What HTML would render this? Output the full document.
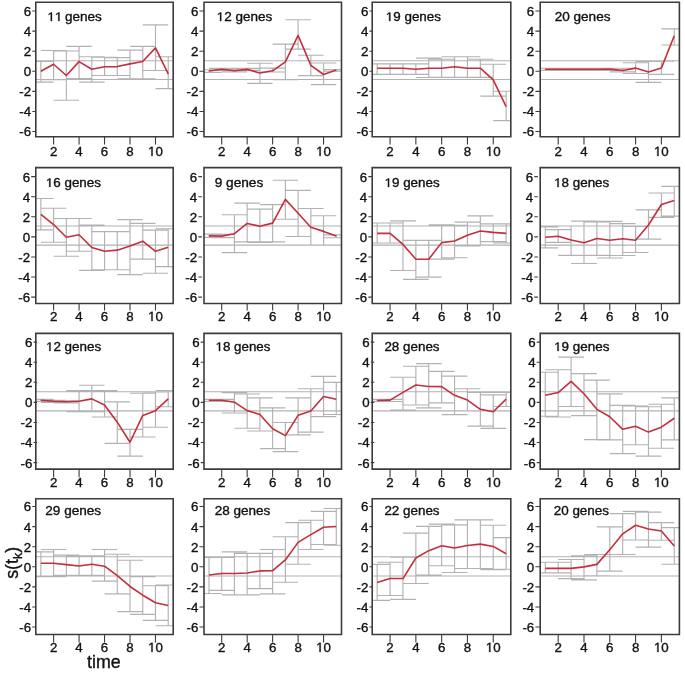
<!DOCTYPE html>
<html><head><meta charset="utf-8"><style>
html,body{margin:0;padding:0;background:#fff;width:685px;height:673px;overflow:hidden}
svg{display:block;will-change:transform}
svg text{font-family:"Liberation Sans",sans-serif;fill:#111;stroke:#111;stroke-width:0.35px}
.t{font-size:13.3px}
.h{font-size:12.3px}
.z{fill-opacity:0;stroke-opacity:0}
.o{fill:#111;stroke:#111;stroke-width:0.35px;vector-effect:non-scaling-stroke}
</style></head><body>
<svg width="685" height="673" viewBox="0 0 685 673"><clipPath id="c0"><rect x="35.8" y="2.2" width="137.4" height="134.6"/></clipPath><g clip-path="url(#c0)"><path d="M35.8 60.7H173.2M35.8 79.5H173.2M40.87 82.14V61.36M28.13 82.14H53.6M28.13 61.36H53.6M53.6 79.63V50.52M40.87 79.63H66.34M40.87 50.52H66.34M66.34 100.22V51.02M53.6 100.22H79.07M53.6 51.02H79.07M79.07 78.63V46.3M66.33 78.63H91.8M66.33 46.3H91.8M91.81 82.14V56.74M79.07 82.14H104.54M79.07 56.74H104.54M104.54 75.52V57.24M91.8 75.52H117.27M91.8 57.24H117.27M117.28 75.52V57.65M104.54 75.52H130.01M104.54 57.65H130.01M130.01 78.73V50.12M117.27 78.73H142.75M117.27 50.12H142.75M142.75 78.73V46.3M130.01 78.73H155.48M130.01 46.3H155.48M155.48 70.5V24.81M142.75 70.5H168.21M142.75 24.81H168.21M168.22 88.57V56.74M155.48 88.57H180.95M155.48 56.74H180.95" stroke="#b2b2b2" stroke-width="1.15" fill="none"/><polyline points="40.87,71.3 53.6,64.27 66.34,75.52 79.07,61.66 91.81,69.19 104.54,66.78 117.28,66.58 130.01,63.87 142.75,61.46 155.48,47.91 168.22,73.81" stroke="#c42e3e" stroke-width="1.6" stroke-linejoin="round" fill="none"/></g><path d="M35.8 2.2H173.2V136.8H35.8Z" fill="none" stroke="#3c3c3c" stroke-width="1.6"/><path d="M32.3 11.06H35.9M32.3 31.14H35.9M32.3 51.22H35.9M32.3 71.3H35.9M32.3 91.38H35.9M32.3 111.46H35.9M32.3 131.54H35.9M53.6 136.8V144.4M79.07 136.8V144.4M104.54 136.8V144.4M130.01 136.8V144.4M155.48 136.8V144.4" fill="none" stroke="#3c3c3c" stroke-width="1.1"/><text x="31.15" y="15.96" text-anchor="end" class="t">6</text><text x="31.15" y="36.04" text-anchor="end" class="t">4</text><text x="31.15" y="56.12" text-anchor="end" class="t">2</text><text x="31.15" y="76.2" text-anchor="end" class="t">0</text><text x="31.15" y="96.28" text-anchor="end" class="t">-2</text><text x="31.15" y="116.36" text-anchor="end" class="t">-4</text><text x="31.15" y="136.44" text-anchor="end" class="t">-6</text><text x="53.6" y="155.6" text-anchor="middle" class="t">2</text><text x="79.07" y="155.6" text-anchor="middle" class="t">4</text><text x="104.54" y="155.6" text-anchor="middle" class="t">6</text><text x="130.01" y="155.6" text-anchor="middle" class="t">8</text><text x="155.48" y="155.6" text-anchor="middle" class="t"><tspan class="z">1</tspan>0</text><path transform="translate(148.08,156) scale(0.006494,-0.006494)" d="M515 0V1237L197 1010V1180L530 1409H696V0Z" class="o"/><text x="47.37" y="21.1" textLength="54.5" lengthAdjust="spacingAndGlyphs" class="h"><tspan class="z">1</tspan><tspan class="z">1</tspan> genes</text><path transform="translate(47.37,21) scale(0.006587,-0.006006)" d="M515 0V1237L197 1010V1180L530 1409H696V0Z" class="o"/><path transform="translate(54.88,21) scale(0.006587,-0.006006)" d="M515 0V1237L197 1010V1180L530 1409H696V0Z" class="o"/><clipPath id="c1"><rect x="204" y="2.2" width="137.5" height="134.6"/></clipPath><g clip-path="url(#c1)"><path d="M204 60.7H341.5M204 79.5H341.5M208.98 72.3V69.79M196.25 72.3H221.71M196.25 69.79H221.71M221.71 70.3V68.39M208.98 70.3H234.44M208.98 68.39H234.44M234.44 71.8V69.79M221.71 71.8H247.17M221.71 69.79H247.17M247.17 70.3V68.39M234.44 70.3H259.9M234.44 68.39H259.9M259.9 83.35V63.27M247.17 83.35H272.63M247.17 63.27H272.63M272.63 72V68.19M259.9 72H285.37M259.9 68.19H285.37M285.37 79.63V44.19M272.64 79.63H298.1M272.64 44.19H298.1M298.1 49.11V19.79M285.37 49.11H310.83M285.37 19.79H310.83M310.83 75.62V55.24M298.1 75.62H323.56M298.1 55.24H323.56M323.56 84.55V62.97M310.83 84.55H336.29M310.83 62.97H336.29M336.29 71.1V69.49M323.56 71.1H349.02M323.56 69.49H349.02" stroke="#b2b2b2" stroke-width="1.15" fill="none"/><polyline points="208.98,71 221.71,69.19 234.44,70.8 247.17,69.39 259.9,73.01 272.63,70.8 285.37,61.86 298.1,35.36 310.83,65.28 323.56,74.51 336.29,70.1" stroke="#c42e3e" stroke-width="1.6" stroke-linejoin="round" fill="none"/></g><path d="M204 2.2H341.5V136.8H204Z" fill="none" stroke="#3c3c3c" stroke-width="1.6"/><path d="M199.45 11.06H204M199.45 31.14H204M199.45 51.22H204M199.45 71.3H204M199.45 91.38H204M199.45 111.46H204M199.45 131.54H204M221.71 136.8V144.4M247.17 136.8V144.4M272.63 136.8V144.4M298.1 136.8V144.4M323.56 136.8V144.4" fill="none" stroke="#3c3c3c" stroke-width="1.1"/><text x="198.3" y="15.96" text-anchor="end" class="t">6</text><text x="198.3" y="36.04" text-anchor="end" class="t">4</text><text x="198.3" y="56.12" text-anchor="end" class="t">2</text><text x="198.3" y="76.2" text-anchor="end" class="t">0</text><text x="198.3" y="96.28" text-anchor="end" class="t">-2</text><text x="198.3" y="116.36" text-anchor="end" class="t">-4</text><text x="198.3" y="136.44" text-anchor="end" class="t">-6</text><text x="221.71" y="155.6" text-anchor="middle" class="t">2</text><text x="247.17" y="155.6" text-anchor="middle" class="t">4</text><text x="272.63" y="155.6" text-anchor="middle" class="t">6</text><text x="298.1" y="155.6" text-anchor="middle" class="t">8</text><text x="323.56" y="155.6" text-anchor="middle" class="t"><tspan class="z">1</tspan>0</text><path transform="translate(316.16,156) scale(0.006494,-0.006494)" d="M515 0V1237L197 1010V1180L530 1409H696V0Z" class="o"/><text x="216.67" y="21.1" textLength="55.61" lengthAdjust="spacingAndGlyphs" class="h"><tspan class="z">1</tspan>2 genes</text><path transform="translate(216.67,21) scale(0.006599,-0.006006)" d="M515 0V1237L197 1010V1180L530 1409H696V0Z" class="o"/><clipPath id="c2"><rect x="372.2" y="2.2" width="138.6" height="134.6"/></clipPath><g clip-path="url(#c2)"><path d="M372.2 60.7H510.8M372.2 79.5H510.8M377.16 74.41V63.87M364.27 74.41H390.06M364.27 63.87H390.06M390.06 74.41V63.87M377.16 74.41H402.96M377.16 63.87H402.96M402.96 74.41V63.87M390.06 74.41H415.85M390.06 63.87H415.85M415.86 74.41V63.87M402.96 74.41H428.75M402.96 63.87H428.75M428.75 77.52V58.05M415.86 77.52H441.65M415.86 58.05H441.65M441.65 77.32V59.25M428.75 77.32H454.55M428.75 59.25H454.55M454.55 77.32V56.74M441.65 77.32H467.44M441.65 56.74H467.44M467.44 77.32V56.74M454.55 77.32H480.34M454.55 56.74H480.34M480.34 77.32V59.25M467.44 77.32H493.24M467.44 59.25H493.24M493.24 96.1V64.27M480.34 96.1H506.14M480.34 64.27H506.14M506.14 120.6V91.28M493.24 120.6H519.04M493.24 91.28H519.04" stroke="#b2b2b2" stroke-width="1.15" fill="none"/><polyline points="377.16,68.29 390.06,68.29 402.96,68.29 415.86,69.29 428.75,68.29 441.65,68.19 454.55,66.68 467.44,68.19 480.34,68.19 493.24,79.93 506.14,106.64" stroke="#c42e3e" stroke-width="1.6" stroke-linejoin="round" fill="none"/></g><path d="M372.2 2.2H510.8V136.8H372.2Z" fill="none" stroke="#3c3c3c" stroke-width="1.6"/><path d="M369.45 11.06H373.05M369.45 31.14H373.05M369.45 51.22H373.05M369.45 71.3H373.05M369.45 91.38H373.05M369.45 111.46H373.05M369.45 131.54H373.05M390.06 136.8V144.4M415.86 136.8V144.4M441.65 136.8V144.4M467.44 136.8V144.4M493.24 136.8V144.4" fill="none" stroke="#3c3c3c" stroke-width="1.1"/><text x="368.3" y="15.96" text-anchor="end" class="t">6</text><text x="368.3" y="36.04" text-anchor="end" class="t">4</text><text x="368.3" y="56.12" text-anchor="end" class="t">2</text><text x="368.3" y="76.2" text-anchor="end" class="t">0</text><text x="368.3" y="96.28" text-anchor="end" class="t">-2</text><text x="368.3" y="116.36" text-anchor="end" class="t">-4</text><text x="368.3" y="136.44" text-anchor="end" class="t">-6</text><text x="390.06" y="155.6" text-anchor="middle" class="t">2</text><text x="415.86" y="155.6" text-anchor="middle" class="t">4</text><text x="441.65" y="155.6" text-anchor="middle" class="t">6</text><text x="467.44" y="155.6" text-anchor="middle" class="t">8</text><text x="493.24" y="155.6" text-anchor="middle" class="t"><tspan class="z">1</tspan>0</text><path transform="translate(485.84,156) scale(0.006494,-0.006494)" d="M515 0V1237L197 1010V1180L530 1409H696V0Z" class="o"/><text x="385.78" y="21.1" textLength="55.2" lengthAdjust="spacingAndGlyphs" class="h"><tspan class="z">1</tspan>9 genes</text><path transform="translate(385.78,21) scale(0.006550,-0.006006)" d="M515 0V1237L197 1010V1180L530 1409H696V0Z" class="o"/><clipPath id="c3"><rect x="540.2" y="2.2" width="139.2" height="134.6"/></clipPath><g clip-path="url(#c3)"><path d="M540.2 60.7H679.4M540.2 79.5H679.4M545.29 70.3V68.29M532.39 70.3H558.19M532.39 68.29H558.19M558.19 70.3V68.29M545.29 70.3H571.09M545.29 68.29H571.09M571.09 70.3V68.29M558.19 70.3H583.99M558.19 68.29H583.99M583.99 70.3V68.29M571.09 70.3H596.88M571.09 68.29H596.88M596.88 70.3V68.29M583.99 70.3H609.78M583.99 68.29H609.78M609.78 70.3V68.29M596.88 70.3H622.68M596.88 68.29H622.68M622.68 71.8V68.29M609.78 71.8H635.58M609.78 68.29H635.58M635.58 73.51V62.77M622.68 73.51H648.47M622.68 62.77H648.47M648.47 82.34V61.46M635.57 82.34H661.37M635.57 61.46H661.37M661.37 74.41V61.26M648.47 74.41H674.27M648.47 61.26H674.27M674.27 45V28.83M661.37 45H687.17M661.37 28.83H687.17" stroke="#b2b2b2" stroke-width="1.15" fill="none"/><polyline points="545.29,69.29 558.19,69.29 571.09,69.29 583.99,69.29 596.88,69.29 609.78,69.09 622.68,70.5 635.58,68.09 648.47,71.9 661.37,68.09 674.27,35.76" stroke="#c42e3e" stroke-width="1.6" stroke-linejoin="round" fill="none"/></g><path d="M540.2 2.2H679.4V136.8H540.2Z" fill="none" stroke="#3c3c3c" stroke-width="1.6"/><path d="M535.4 11.06H540.2M535.4 31.14H540.2M535.4 51.22H540.2M535.4 71.3H540.2M535.4 91.38H540.2M535.4 111.46H540.2M535.4 131.54H540.2M558.19 136.8V144.4M583.99 136.8V144.4M609.78 136.8V144.4M635.58 136.8V144.4M661.37 136.8V144.4" fill="none" stroke="#3c3c3c" stroke-width="1.1"/><text x="534.25" y="15.96" text-anchor="end" class="t">6</text><text x="534.25" y="36.04" text-anchor="end" class="t">4</text><text x="534.25" y="56.12" text-anchor="end" class="t">2</text><text x="534.25" y="76.2" text-anchor="end" class="t">0</text><text x="534.25" y="96.28" text-anchor="end" class="t">-2</text><text x="534.25" y="116.36" text-anchor="end" class="t">-4</text><text x="534.25" y="136.44" text-anchor="end" class="t">-6</text><text x="558.19" y="155.6" text-anchor="middle" class="t">2</text><text x="583.99" y="155.6" text-anchor="middle" class="t">4</text><text x="609.78" y="155.6" text-anchor="middle" class="t">6</text><text x="635.58" y="155.6" text-anchor="middle" class="t">8</text><text x="661.37" y="155.6" text-anchor="middle" class="t"><tspan class="z">1</tspan>0</text><path transform="translate(653.97,156) scale(0.006494,-0.006494)" d="M515 0V1237L197 1010V1180L530 1409H696V0Z" class="o"/><text x="554.72" y="21.1" textLength="55.76" lengthAdjust="spacingAndGlyphs" class="h">20 genes</text><clipPath id="c4"><rect x="35.8" y="167.6" width="137.4" height="135.9"/></clipPath><g clip-path="url(#c4)"><path d="M35.8 226H173.2M35.8 245.1H173.2M40.87 229.87V198.45M28.13 229.87H53.6M28.13 198.45H53.6M53.6 242.22V208.29M40.87 242.22H66.34M40.87 208.29H66.34M66.34 256.28V218.53M53.6 256.28H79.07M53.6 218.53H79.07M79.07 251.26V218.53M66.33 251.26H91.8M66.33 218.53H91.8M91.81 270.43V225.15M79.07 270.43H104.54M79.07 225.15H104.54M104.54 269.73V231.58M91.8 269.73H117.27M91.8 231.58H117.27M117.28 269.73V231.58M104.54 269.73H130.01M104.54 231.58H130.01M130.01 274.55V219.63M117.27 274.55H142.75M117.27 219.63H142.75M142.75 259.09V223.35M130.01 259.09H155.48M130.01 223.35H155.48M155.48 273.24V230.17M142.75 273.24H168.21M142.75 230.17H168.21M168.22 266.62V228.77M155.48 266.62H180.95M155.48 228.77H180.95" stroke="#b2b2b2" stroke-width="1.15" fill="none"/><polyline points="40.87,214.41 53.6,224.55 66.34,237.2 79.07,234.69 91.81,247.54 104.54,251.26 117.28,250.15 130.01,245.94 142.75,241.22 155.48,251.26 168.22,247.14" stroke="#c42e3e" stroke-width="1.6" stroke-linejoin="round" fill="none"/></g><path d="M35.8 167.6H173.2V303.5H35.8Z" fill="none" stroke="#3c3c3c" stroke-width="1.6"/><path d="M31.2 176.66H35.8M31.2 196.74H35.8M31.2 216.82H35.8M31.2 236.9H35.8M31.2 256.98H35.8M31.2 277.06H35.8M31.2 297.14H35.8M53.6 303.5V310.4M79.07 303.5V310.4M104.54 303.5V310.4M130.01 303.5V310.4M155.48 303.5V310.4" fill="none" stroke="#3c3c3c" stroke-width="1.1"/><text x="30.05" y="181.56" text-anchor="end" class="t">6</text><text x="30.05" y="201.64" text-anchor="end" class="t">4</text><text x="30.05" y="221.72" text-anchor="end" class="t">2</text><text x="30.05" y="241.8" text-anchor="end" class="t">0</text><text x="30.05" y="261.88" text-anchor="end" class="t">-2</text><text x="30.05" y="281.96" text-anchor="end" class="t">-4</text><text x="30.05" y="302.04" text-anchor="end" class="t">-6</text><text x="53.6" y="321.3" text-anchor="middle" class="t">2</text><text x="79.07" y="321.3" text-anchor="middle" class="t">4</text><text x="104.54" y="321.3" text-anchor="middle" class="t">6</text><text x="130.01" y="321.3" text-anchor="middle" class="t">8</text><text x="155.48" y="321.3" text-anchor="middle" class="t"><tspan class="z">1</tspan>0</text><path transform="translate(148.08,321) scale(0.006494,-0.006494)" d="M515 0V1237L197 1010V1180L530 1409H696V0Z" class="o"/><text x="45.88" y="187" textLength="54.99" lengthAdjust="spacingAndGlyphs" class="h"><tspan class="z">1</tspan>6 genes</text><path transform="translate(45.88,187) scale(0.006526,-0.006006)" d="M515 0V1237L197 1010V1180L530 1409H696V0Z" class="o"/><clipPath id="c5"><rect x="204" y="167.6" width="137.5" height="135.9"/></clipPath><g clip-path="url(#c5)"><path d="M204 226H341.5M204 245.1H341.5M208.98 237.4V234.09M196.25 237.4H221.71M196.25 234.09H221.71M221.71 237.6V234.39M208.98 237.6H234.44M208.98 234.39H234.44M234.44 252.66V214.71M221.71 252.66H247.17M221.71 214.71H247.17M247.17 241.82V203.17M234.44 241.82H259.9M234.44 203.17H259.9M259.9 242.42V209.09M247.17 242.42H272.63M247.17 209.09H272.63M272.63 241.82V204.67M259.9 241.82H285.37M259.9 204.67H285.37M285.37 219.23V180.27M272.64 219.23H298.1M272.64 180.27H298.1M298.1 236.5V190.31M285.37 236.5H310.83M285.37 190.31H310.83M310.83 245.13V208.49M298.1 245.13H323.56M298.1 208.49H323.56M323.56 245.13V215.72M310.83 245.13H336.29M310.83 215.72H336.29M336.29 237.7V234.89M323.56 237.7H349.02M323.56 234.89H349.02" stroke="#b2b2b2" stroke-width="1.15" fill="none"/><polyline points="208.98,235.9 221.71,236.1 234.44,233.69 247.17,223.45 259.9,226.16 272.63,223.15 285.37,199.35 298.1,213.31 310.83,227.26 323.56,231.38 336.29,236.1" stroke="#c42e3e" stroke-width="1.6" stroke-linejoin="round" fill="none"/></g><path d="M204 167.6H341.5V303.5H204Z" fill="none" stroke="#3c3c3c" stroke-width="1.6"/><path d="M198.35 176.66H201.95M198.35 196.74H201.95M198.35 216.82H201.95M198.35 236.9H201.95M198.35 256.98H201.95M198.35 277.06H201.95M198.35 297.14H201.95M221.71 303.5V310.4M247.17 303.5V310.4M272.63 303.5V310.4M298.1 303.5V310.4M323.56 303.5V310.4" fill="none" stroke="#3c3c3c" stroke-width="1.1"/><text x="197.2" y="181.56" text-anchor="end" class="t">6</text><text x="197.2" y="201.64" text-anchor="end" class="t">4</text><text x="197.2" y="221.72" text-anchor="end" class="t">2</text><text x="197.2" y="241.8" text-anchor="end" class="t">0</text><text x="197.2" y="261.88" text-anchor="end" class="t">-2</text><text x="197.2" y="281.96" text-anchor="end" class="t">-4</text><text x="197.2" y="302.04" text-anchor="end" class="t">-6</text><text x="221.71" y="321.3" text-anchor="middle" class="t">2</text><text x="247.17" y="321.3" text-anchor="middle" class="t">4</text><text x="272.63" y="321.3" text-anchor="middle" class="t">6</text><text x="298.1" y="321.3" text-anchor="middle" class="t">8</text><text x="323.56" y="321.3" text-anchor="middle" class="t"><tspan class="z">1</tspan>0</text><path transform="translate(316.16,321) scale(0.006494,-0.006494)" d="M515 0V1237L197 1010V1180L530 1409H696V0Z" class="o"/><text x="214.66" y="187" textLength="48.63" lengthAdjust="spacingAndGlyphs" class="h">9 genes</text><clipPath id="c6"><rect x="372.2" y="167.6" width="138.6" height="135.9"/></clipPath><g clip-path="url(#c6)"><path d="M372.2 226H510.8M372.2 245.1H510.8M377.16 243.02V223.04M364.27 243.02H390.06M364.27 223.04H390.06M390.06 243.02V223.04M377.16 243.02H402.96M377.16 223.04H402.96M402.96 270.53V220.84M390.06 270.53H415.85M390.06 220.84H415.85M415.86 279.37V240.41M402.96 279.37H428.75M402.96 240.41H428.75M428.75 277.06V240.41M415.86 277.06H441.65M415.86 240.41H441.65M441.65 259.19V224.85M428.75 259.19H454.55M428.75 224.85H454.55M454.55 257.78V225.35M441.65 257.78H467.44M441.65 225.35H467.44M467.44 245.84V222.14M454.55 245.84H480.34M454.55 222.14H480.34M480.34 245.13V215.92M467.44 245.13H493.24M467.44 215.92H493.24M493.24 241.62V223.85M480.34 241.62H506.14M480.34 223.85H506.14M506.14 243.02V223.85M493.24 243.02H519.04M493.24 223.85H519.04" stroke="#b2b2b2" stroke-width="1.15" fill="none"/><polyline points="377.16,233.39 390.06,233.39 402.96,244.43 415.86,259.19 428.75,259.19 441.65,242.62 454.55,240.92 467.44,235.19 480.34,230.98 493.24,232.38 506.14,233.39" stroke="#c42e3e" stroke-width="1.6" stroke-linejoin="round" fill="none"/></g><path d="M372.2 167.6H510.8V303.5H372.2Z" fill="none" stroke="#3c3c3c" stroke-width="1.6"/><path d="M368.35 176.66H372.2M368.35 196.74H372.2M368.35 216.82H372.2M368.35 236.9H372.2M368.35 256.98H372.2M368.35 277.06H372.2M368.35 297.14H372.2M390.06 303.5V310.4M415.86 303.5V310.4M441.65 303.5V310.4M467.44 303.5V310.4M493.24 303.5V310.4" fill="none" stroke="#3c3c3c" stroke-width="1.1"/><text x="367.2" y="181.56" text-anchor="end" class="t">6</text><text x="367.2" y="201.64" text-anchor="end" class="t">4</text><text x="367.2" y="221.72" text-anchor="end" class="t">2</text><text x="367.2" y="241.8" text-anchor="end" class="t">0</text><text x="367.2" y="261.88" text-anchor="end" class="t">-2</text><text x="367.2" y="281.96" text-anchor="end" class="t">-4</text><text x="367.2" y="302.04" text-anchor="end" class="t">-6</text><text x="390.06" y="321.3" text-anchor="middle" class="t">2</text><text x="415.86" y="321.3" text-anchor="middle" class="t">4</text><text x="441.65" y="321.3" text-anchor="middle" class="t">6</text><text x="467.44" y="321.3" text-anchor="middle" class="t">8</text><text x="493.24" y="321.3" text-anchor="middle" class="t"><tspan class="z">1</tspan>0</text><path transform="translate(485.84,321) scale(0.006494,-0.006494)" d="M515 0V1237L197 1010V1180L530 1409H696V0Z" class="o"/><text x="384.58" y="187" textLength="54.99" lengthAdjust="spacingAndGlyphs" class="h"><tspan class="z">1</tspan>9 genes</text><path transform="translate(384.58,187) scale(0.006526,-0.006006)" d="M515 0V1237L197 1010V1180L530 1409H696V0Z" class="o"/><clipPath id="c7"><rect x="540.2" y="167.6" width="139.2" height="135.9"/></clipPath><g clip-path="url(#c7)"><path d="M540.2 226H679.4M540.2 245.1H679.4M545.29 247.94V226.86M532.39 247.94H558.19M532.39 226.86H558.19M558.19 242.32V229.57M545.29 242.32H571.09M545.29 229.57H571.09M571.09 255.37V225.96M558.19 255.37H583.99M558.19 225.96H583.99M583.99 263.51V221.14M571.09 263.51H596.88M571.09 221.14H596.88M596.88 255.37V221.84M583.99 255.37H609.78M583.99 221.84H609.78M609.78 257.98V221.34M596.88 257.98H622.68M596.88 221.34H622.68M622.68 255.47V223.55M609.78 255.47H635.58M609.78 223.55H635.58M635.58 252.46V226.46M622.68 252.46H648.47M622.68 226.46H648.47M648.47 239.11V209.89M635.57 239.11H661.37M635.57 209.89H661.37M661.37 217.32V193.03M648.47 217.32H674.27M648.47 193.03H674.27M674.27 216.12V186.4M661.37 216.12H687.17M661.37 186.4H687.17" stroke="#b2b2b2" stroke-width="1.15" fill="none"/><polyline points="545.29,237.3 558.19,236.2 571.09,239.91 583.99,242.72 596.88,238.51 609.78,240.21 622.68,238.71 635.58,240.21 648.47,224.95 661.37,204.47 674.27,200.45" stroke="#c42e3e" stroke-width="1.6" stroke-linejoin="round" fill="none"/></g><path d="M540.2 167.6H679.4V303.5H540.2Z" fill="none" stroke="#3c3c3c" stroke-width="1.6"/><path d="M534.3 176.66H537.9M534.3 196.74H537.9M534.3 216.82H537.9M534.3 236.9H537.9M534.3 256.98H537.9M534.3 277.06H537.9M534.3 297.14H537.9M558.19 303.5V310.4M583.99 303.5V310.4M609.78 303.5V310.4M635.58 303.5V310.4M661.37 303.5V310.4" fill="none" stroke="#3c3c3c" stroke-width="1.1"/><text x="533.15" y="181.56" text-anchor="end" class="t">6</text><text x="533.15" y="201.64" text-anchor="end" class="t">4</text><text x="533.15" y="221.72" text-anchor="end" class="t">2</text><text x="533.15" y="241.8" text-anchor="end" class="t">0</text><text x="533.15" y="261.88" text-anchor="end" class="t">-2</text><text x="533.15" y="281.96" text-anchor="end" class="t">-4</text><text x="533.15" y="302.04" text-anchor="end" class="t">-6</text><text x="558.19" y="321.3" text-anchor="middle" class="t">2</text><text x="583.99" y="321.3" text-anchor="middle" class="t">4</text><text x="609.78" y="321.3" text-anchor="middle" class="t">6</text><text x="635.58" y="321.3" text-anchor="middle" class="t">8</text><text x="661.37" y="321.3" text-anchor="middle" class="t"><tspan class="z">1</tspan>0</text><path transform="translate(653.97,321) scale(0.006494,-0.006494)" d="M515 0V1237L197 1010V1180L530 1409H696V0Z" class="o"/><text x="554.08" y="187" textLength="55.2" lengthAdjust="spacingAndGlyphs" class="h"><tspan class="z">1</tspan>8 genes</text><path transform="translate(554.08,187) scale(0.006550,-0.006006)" d="M515 0V1237L197 1010V1180L530 1409H696V0Z" class="o"/><clipPath id="c8"><rect x="35.8" y="333.35" width="137.4" height="135.75"/></clipPath><g clip-path="url(#c8)"><path d="M35.8 391.7H173.2M35.8 410.8H173.2M40.87 401.4V399.39M28.13 401.4H53.6M28.13 399.39H53.6M53.6 402.4V400.39M40.87 402.4H66.34M40.87 400.39H66.34M66.34 402.9V400.89M53.6 402.9H79.07M53.6 400.89H79.07M79.07 411.64V390.55M66.33 411.64H91.8M66.33 390.55H91.8M91.81 411.64V385.23M79.07 411.64H104.54M79.07 385.23H104.54M104.54 416.96V390.55M91.8 416.96H117.27M91.8 390.55H117.27M117.28 443.36V401.8M104.54 443.36H130.01M104.54 401.8H130.01M130.01 456.11V429.31M117.27 456.11H142.75M117.27 429.31H142.75M142.75 437.04V393.26M130.01 437.04H155.48M130.01 393.26H155.48M155.48 427.2V391.86M142.75 427.2H168.21M142.75 391.86H168.21M168.22 406.72V390.45M155.48 406.72H180.95M155.48 390.45H180.95" stroke="#b2b2b2" stroke-width="1.15" fill="none"/><polyline points="40.87,400.29 53.6,401.3 66.34,401.8 79.07,401.3 91.81,398.89 104.54,404.91 117.28,422.18 130.01,442.26 142.75,415.45 155.48,410.63 168.22,398.89" stroke="#c42e3e" stroke-width="1.6" stroke-linejoin="round" fill="none"/></g><path d="M35.8 333.35H173.2V469.1H35.8Z" fill="none" stroke="#3c3c3c" stroke-width="1.6"/><path d="M33.6 342.16H37.2M33.6 362.24H37.2M33.6 382.32H37.2M33.6 402.4H37.2M33.6 422.48H37.2M33.6 442.56H37.2M33.6 462.64H37.2M53.6 469.1V477.3M79.07 469.1V477.3M104.54 469.1V477.3M130.01 469.1V477.3M155.48 469.1V477.3" fill="none" stroke="#3c3c3c" stroke-width="1.1"/><text x="32.45" y="347.06" text-anchor="end" class="t">6</text><text x="32.45" y="367.14" text-anchor="end" class="t">4</text><text x="32.45" y="387.22" text-anchor="end" class="t">2</text><text x="32.45" y="407.3" text-anchor="end" class="t">0</text><text x="32.45" y="427.38" text-anchor="end" class="t">-2</text><text x="32.45" y="447.46" text-anchor="end" class="t">-4</text><text x="32.45" y="467.54" text-anchor="end" class="t">-6</text><text x="53.6" y="486.7" text-anchor="middle" class="t">2</text><text x="79.07" y="486.7" text-anchor="middle" class="t">4</text><text x="104.54" y="486.7" text-anchor="middle" class="t">6</text><text x="130.01" y="486.7" text-anchor="middle" class="t">8</text><text x="155.48" y="486.7" text-anchor="middle" class="t"><tspan class="z">1</tspan>0</text><path transform="translate(148.08,487) scale(0.006494,-0.006494)" d="M515 0V1237L197 1010V1180L530 1409H696V0Z" class="o"/><text x="45.98" y="351" textLength="55.2" lengthAdjust="spacingAndGlyphs" class="h"><tspan class="z">1</tspan>2 genes</text><path transform="translate(45.98,351) scale(0.006550,-0.006006)" d="M515 0V1237L197 1010V1180L530 1409H696V0Z" class="o"/><clipPath id="c9"><rect x="204" y="333.35" width="137.5" height="135.75"/></clipPath><g clip-path="url(#c9)"><path d="M204 391.7H341.5M204 410.8H341.5M208.98 401.4V399.39M196.25 401.4H221.71M196.25 399.39H221.71M221.71 401.4V399.39M208.98 401.4H234.44M208.98 399.39H234.44M234.44 413.04V392.56M221.71 413.04H247.17M221.71 392.56H247.17M247.17 428.2V393.97M234.44 428.2H259.9M234.44 393.97H259.9M259.9 431.01V397.88M247.17 431.01H272.63M247.17 397.88H272.63M272.63 448.58V407.92M259.9 448.58H285.37M259.9 407.92H285.37M285.37 451.6V422.48M272.64 451.6H298.1M272.64 422.48H298.1M298.1 434.93V397.88M285.37 434.93H310.83M285.37 397.88H310.83M310.83 432.12V388.75M298.1 432.12H323.56M298.1 388.75H323.56M323.56 416.56V376.4M310.83 416.56H336.29M310.83 376.4H336.29M336.29 414.45V382.42M323.56 414.45H349.02M323.56 382.42H349.02" stroke="#b2b2b2" stroke-width="1.15" fill="none"/><polyline points="208.98,400.29 221.71,400.29 234.44,402.2 247.17,410.63 259.9,414.45 272.63,428.7 285.37,435.63 298.1,415.35 310.83,410.93 323.56,396.48 336.29,399.19" stroke="#c42e3e" stroke-width="1.6" stroke-linejoin="round" fill="none"/></g><path d="M204 333.35H341.5V469.1H204Z" fill="none" stroke="#3c3c3c" stroke-width="1.6"/><path d="M200.75 342.16H204.35M200.75 362.24H204.35M200.75 382.32H204.35M200.75 402.4H204.35M200.75 422.48H204.35M200.75 442.56H204.35M200.75 462.64H204.35M221.71 469.1V477.3M247.17 469.1V477.3M272.63 469.1V477.3M298.1 469.1V477.3M323.56 469.1V477.3" fill="none" stroke="#3c3c3c" stroke-width="1.1"/><text x="199.6" y="347.06" text-anchor="end" class="t">6</text><text x="199.6" y="367.14" text-anchor="end" class="t">4</text><text x="199.6" y="387.22" text-anchor="end" class="t">2</text><text x="199.6" y="407.3" text-anchor="end" class="t">0</text><text x="199.6" y="427.38" text-anchor="end" class="t">-2</text><text x="199.6" y="447.46" text-anchor="end" class="t">-4</text><text x="199.6" y="467.54" text-anchor="end" class="t">-6</text><text x="221.71" y="486.7" text-anchor="middle" class="t">2</text><text x="247.17" y="486.7" text-anchor="middle" class="t">4</text><text x="272.63" y="486.7" text-anchor="middle" class="t">6</text><text x="298.1" y="486.7" text-anchor="middle" class="t">8</text><text x="323.56" y="486.7" text-anchor="middle" class="t"><tspan class="z">1</tspan>0</text><path transform="translate(316.16,487) scale(0.006494,-0.006494)" d="M515 0V1237L197 1010V1180L530 1409H696V0Z" class="o"/><text x="215.59" y="351" textLength="54.79" lengthAdjust="spacingAndGlyphs" class="h"><tspan class="z">1</tspan>8 genes</text><path transform="translate(215.59,351) scale(0.006501,-0.006006)" d="M515 0V1237L197 1010V1180L530 1409H696V0Z" class="o"/><clipPath id="c10"><rect x="372.2" y="333.35" width="138.6" height="135.75"/></clipPath><g clip-path="url(#c10)"><path d="M372.2 391.7H510.8M372.2 410.8H510.8M377.16 401.4V399.39M364.27 401.4H390.06M364.27 399.39H390.06M390.06 401.5V399.39M377.16 401.5H402.96M377.16 399.39H402.96M402.96 410.03V377.2M390.06 410.03H415.85M390.06 377.2H415.85M415.86 405.01V366.26M402.96 405.01H428.75M402.96 366.26H428.75M428.75 407.92V363.65M415.86 407.92H441.65M415.86 363.65H441.65M441.65 402.9V371.38M428.75 402.9H454.55M428.75 371.38H454.55M454.55 414.55V376.1M441.65 414.55H467.44M441.65 376.1H467.44M467.44 410.73V388.75M454.55 410.73H480.34M454.55 388.75H480.34M480.34 426.19V392.36M467.44 426.19H493.24M467.44 392.36H493.24M493.24 428.3V394.87M480.34 428.3H506.14M480.34 394.87H506.14M506.14 406.52V392.36M493.24 406.52H519.04M493.24 392.36H519.04" stroke="#b2b2b2" stroke-width="1.15" fill="none"/><polyline points="377.16,400.49 390.06,400.09 402.96,392.36 415.86,385.03 428.75,386.44 441.65,386.64 454.55,395.37 467.44,400.09 480.34,409.33 493.24,411.74 506.14,399.09" stroke="#c42e3e" stroke-width="1.6" stroke-linejoin="round" fill="none"/></g><path d="M372.2 333.35H510.8V469.1H372.2Z" fill="none" stroke="#3c3c3c" stroke-width="1.6"/><path d="M370.75 342.16H374.35M370.75 362.24H374.35M370.75 382.32H374.35M370.75 402.4H374.35M370.75 422.48H374.35M370.75 442.56H374.35M370.75 462.64H374.35M390.06 469.1V477.3M415.86 469.1V477.3M441.65 469.1V477.3M467.44 469.1V477.3M493.24 469.1V477.3" fill="none" stroke="#3c3c3c" stroke-width="1.1"/><text x="369.6" y="347.06" text-anchor="end" class="t">6</text><text x="369.6" y="367.14" text-anchor="end" class="t">4</text><text x="369.6" y="387.22" text-anchor="end" class="t">2</text><text x="369.6" y="407.3" text-anchor="end" class="t">0</text><text x="369.6" y="427.38" text-anchor="end" class="t">-2</text><text x="369.6" y="447.46" text-anchor="end" class="t">-4</text><text x="369.6" y="467.54" text-anchor="end" class="t">-6</text><text x="390.06" y="486.7" text-anchor="middle" class="t">2</text><text x="415.86" y="486.7" text-anchor="middle" class="t">4</text><text x="441.65" y="486.7" text-anchor="middle" class="t">6</text><text x="467.44" y="486.7" text-anchor="middle" class="t">8</text><text x="493.24" y="486.7" text-anchor="middle" class="t"><tspan class="z">1</tspan>0</text><path transform="translate(485.84,487) scale(0.006494,-0.006494)" d="M515 0V1237L197 1010V1180L530 1409H696V0Z" class="o"/><text x="384.43" y="351" textLength="55.15" lengthAdjust="spacingAndGlyphs" class="h">28 genes</text><clipPath id="c11"><rect x="540.2" y="333.35" width="139.2" height="135.75"/></clipPath><g clip-path="url(#c11)"><path d="M540.2 391.7H679.4M540.2 410.8H679.4M545.29 416.26V372.28M532.39 416.26H558.19M532.39 372.28H558.19M558.19 416.96V369.77M545.29 416.96H571.09M545.29 369.77H571.09M571.09 406.52V357.12M558.19 406.52H583.99M558.19 357.12H583.99M583.99 415.55V373.69M571.09 415.55H596.88M571.09 373.69H596.88M596.88 439.65V380.11M583.99 439.65H609.78M583.99 380.11H609.78M609.78 439.85V393.87M596.88 439.85H622.68M596.88 393.87H622.68M622.68 453.6V405.31M609.78 453.6H635.58M609.78 405.31H635.58M635.58 444.77V406.01M622.68 444.77H648.47M622.68 406.01H648.47M648.47 456.11V406.72M635.57 456.11H661.37M635.57 406.72H661.37M661.37 448.28V404.21M648.47 448.28H674.27M648.47 404.21H674.27M674.27 439.85V397.88M661.37 439.85H687.17M661.37 397.88H687.17" stroke="#b2b2b2" stroke-width="1.15" fill="none"/><polyline points="545.29,395.17 558.19,392.56 571.09,381.32 583.99,393.77 596.88,409.33 609.78,416.76 622.68,429.31 635.58,426.19 648.47,432.12 661.37,427.2 674.27,418.26" stroke="#c42e3e" stroke-width="1.6" stroke-linejoin="round" fill="none"/></g><path d="M540.2 333.35H679.4V469.1H540.2Z" fill="none" stroke="#3c3c3c" stroke-width="1.6"/><path d="M536.7 342.16H540.3M536.7 362.24H540.3M536.7 382.32H540.3M536.7 402.4H540.3M536.7 422.48H540.3M536.7 442.56H540.3M536.7 462.64H540.3M558.19 469.1V477.3M583.99 469.1V477.3M609.78 469.1V477.3M635.58 469.1V477.3M661.37 469.1V477.3" fill="none" stroke="#3c3c3c" stroke-width="1.1"/><text x="535.55" y="347.06" text-anchor="end" class="t">6</text><text x="535.55" y="367.14" text-anchor="end" class="t">4</text><text x="535.55" y="387.22" text-anchor="end" class="t">2</text><text x="535.55" y="407.3" text-anchor="end" class="t">0</text><text x="535.55" y="427.38" text-anchor="end" class="t">-2</text><text x="535.55" y="447.46" text-anchor="end" class="t">-4</text><text x="535.55" y="467.54" text-anchor="end" class="t">-6</text><text x="558.19" y="486.7" text-anchor="middle" class="t">2</text><text x="583.99" y="486.7" text-anchor="middle" class="t">4</text><text x="609.78" y="486.7" text-anchor="middle" class="t">6</text><text x="635.58" y="486.7" text-anchor="middle" class="t">8</text><text x="661.37" y="486.7" text-anchor="middle" class="t"><tspan class="z">1</tspan>0</text><path transform="translate(653.97,487) scale(0.006494,-0.006494)" d="M515 0V1237L197 1010V1180L530 1409H696V0Z" class="o"/><text x="554.08" y="351" textLength="55.4" lengthAdjust="spacingAndGlyphs" class="h"><tspan class="z">1</tspan>9 genes</text><path transform="translate(554.08,351) scale(0.006575,-0.006006)" d="M515 0V1237L197 1010V1180L530 1409H696V0Z" class="o"/><clipPath id="c12"><rect x="35.8" y="498.7" width="137.4" height="135.86"/></clipPath><g clip-path="url(#c12)"><path d="M35.8 556.7H173.2M35.8 576H173.2M40.87 576.64V551.94M28.13 576.64H53.6M28.13 551.94H53.6M53.6 576.64V549.53M40.87 576.64H66.34M40.87 549.53H66.34M66.34 575.23V555.15M53.6 575.23H79.07M53.6 555.15H79.07M79.07 575.23V555.76M66.33 575.23H91.8M66.33 555.76H91.8M91.81 575.23V555.76M79.07 575.23H104.54M79.07 555.76H104.54M104.54 581.06V549.53M91.8 581.06H117.27M91.8 549.53H117.27M117.28 593.81V554.25M104.54 593.81H130.01M104.54 554.25H130.01M130.01 611.58V560.27M117.27 611.58H142.75M117.27 560.27H142.75M142.75 614.39V576.64M130.01 614.39H155.48M130.01 576.64H155.48M155.48 620.31V585.78M142.75 620.31H168.21M142.75 585.78H168.21M168.22 625.73V584.97M155.48 625.73H180.95M155.48 584.97H180.95" stroke="#b2b2b2" stroke-width="1.15" fill="none"/><polyline points="40.87,563.19 53.6,563.19 66.34,564.59 79.07,566 91.81,564.29 104.54,566.2 117.28,575.64 130.01,586.48 142.75,595.21 155.48,602.74 168.22,605.45" stroke="#c42e3e" stroke-width="1.6" stroke-linejoin="round" fill="none"/></g><path d="M35.8 498.7H173.2V634.56H35.8Z" fill="none" stroke="#3c3c3c" stroke-width="1.6"/><path d="M32.3 506.56H35.9M32.3 526.64H35.9M32.3 546.72H35.9M32.3 566.8H35.9M32.3 586.88H35.9M32.3 606.96H35.9M32.3 627.04H35.9M53.6 634.56V642.6M79.07 634.56V642.6M104.54 634.56V642.6M130.01 634.56V642.6M155.48 634.56V642.6" fill="none" stroke="#3c3c3c" stroke-width="1.1"/><text x="31.15" y="511.46" text-anchor="end" class="t">6</text><text x="31.15" y="531.54" text-anchor="end" class="t">4</text><text x="31.15" y="551.62" text-anchor="end" class="t">2</text><text x="31.15" y="571.7" text-anchor="end" class="t">0</text><text x="31.15" y="591.78" text-anchor="end" class="t">-2</text><text x="31.15" y="611.86" text-anchor="end" class="t">-4</text><text x="31.15" y="631.94" text-anchor="end" class="t">-6</text><text x="53.6" y="652.1" text-anchor="middle" class="t">2</text><text x="79.07" y="652.1" text-anchor="middle" class="t">4</text><text x="104.54" y="652.1" text-anchor="middle" class="t">6</text><text x="130.01" y="652.1" text-anchor="middle" class="t">8</text><text x="155.48" y="652.1" text-anchor="middle" class="t"><tspan class="z">1</tspan>0</text><path transform="translate(148.08,652) scale(0.006494,-0.006494)" d="M515 0V1237L197 1010V1180L530 1409H696V0Z" class="o"/><text x="45.32" y="515.2" textLength="55.86" lengthAdjust="spacingAndGlyphs" class="h">29 genes</text><clipPath id="c13"><rect x="204" y="498.7" width="137.5" height="135.86"/></clipPath><g clip-path="url(#c13)"><path d="M204 556.7H341.5M204 576H341.5M208.98 593.51V557.46M196.25 593.51H221.71M196.25 557.46H221.71M221.71 590.39V557.46M208.98 590.39H234.44M208.98 557.46H234.44M234.44 594.91V551.94M221.71 594.91H247.17M221.71 551.94H247.17M247.17 594.91V553.35M234.44 594.91H259.9M234.44 553.35H259.9M259.9 588.59V553.35M247.17 588.59H272.63M247.17 553.35H272.63M272.63 593.91V549.53M259.9 593.91H285.37M259.9 549.53H285.37M285.37 582.26V536.78M272.64 582.26H298.1M272.64 536.78H298.1M298.1 564.29V522.62M285.37 564.29H310.83M285.37 522.62H310.83M310.83 549.53V520.21M298.1 549.53H323.56M298.1 520.21H323.56M323.56 544.51V511.38M310.83 544.51H336.29M310.83 511.38H336.29M336.29 545.21V508.47M323.56 545.21H349.02M323.56 508.47H349.02" stroke="#b2b2b2" stroke-width="1.15" fill="none"/><polyline points="208.98,574.93 221.71,573.53 234.44,573.53 247.17,573.02 259.9,570.92 272.63,570.62 285.37,559.97 298.1,542.4 310.83,534.57 323.56,527.24 336.29,526.44" stroke="#c42e3e" stroke-width="1.6" stroke-linejoin="round" fill="none"/></g><path d="M204 498.7H341.5V634.56H204Z" fill="none" stroke="#3c3c3c" stroke-width="1.6"/><path d="M199.45 506.56H204M199.45 526.64H204M199.45 546.72H204M199.45 566.8H204M199.45 586.88H204M199.45 606.96H204M199.45 627.04H204M221.71 634.56V642.6M247.17 634.56V642.6M272.63 634.56V642.6M298.1 634.56V642.6M323.56 634.56V642.6" fill="none" stroke="#3c3c3c" stroke-width="1.1"/><text x="198.3" y="511.46" text-anchor="end" class="t">6</text><text x="198.3" y="531.54" text-anchor="end" class="t">4</text><text x="198.3" y="551.62" text-anchor="end" class="t">2</text><text x="198.3" y="571.7" text-anchor="end" class="t">0</text><text x="198.3" y="591.78" text-anchor="end" class="t">-2</text><text x="198.3" y="611.86" text-anchor="end" class="t">-4</text><text x="198.3" y="631.94" text-anchor="end" class="t">-6</text><text x="221.71" y="652.1" text-anchor="middle" class="t">2</text><text x="247.17" y="652.1" text-anchor="middle" class="t">4</text><text x="272.63" y="652.1" text-anchor="middle" class="t">6</text><text x="298.1" y="652.1" text-anchor="middle" class="t">8</text><text x="323.56" y="652.1" text-anchor="middle" class="t"><tspan class="z">1</tspan>0</text><path transform="translate(316.16,652) scale(0.006494,-0.006494)" d="M515 0V1237L197 1010V1180L530 1409H696V0Z" class="o"/><text x="214.72" y="515.2" textLength="55.66" lengthAdjust="spacingAndGlyphs" class="h">28 genes</text><clipPath id="c14"><rect x="372.2" y="498.7" width="138.6" height="135.86"/></clipPath><g clip-path="url(#c14)"><path d="M372.2 556.7H510.8M372.2 576H510.8M377.16 600.43V564.39M364.27 600.43H390.06M364.27 564.39H390.06M390.06 595.51V562.28M377.16 595.51H402.96M377.16 562.28H402.96M402.96 599.43V557.26M390.06 599.43H415.85M390.06 557.26H415.85M415.86 583.47V533.07M402.96 583.47H428.75M402.96 533.07H428.75M428.75 575.03V526.34M415.86 575.03H441.65M415.86 526.34H441.65M441.65 565.7V524.13M428.75 565.7H454.55M428.75 524.13H454.55M454.55 572.52V524.83M441.65 572.52H467.44M441.65 524.83H467.44M467.44 568.51V519.81M454.55 568.51H480.34M454.55 519.81H480.34M480.34 568.51V519.81M467.44 568.51H493.24M467.44 519.81H493.24M493.24 569.61V525.23M480.34 569.61H506.14M480.34 525.23H506.14M506.14 569.21V537.68M493.24 569.21H519.04M493.24 537.68H519.04" stroke="#b2b2b2" stroke-width="1.15" fill="none"/><polyline points="377.16,582.46 390.06,578.55 402.96,578.55 415.86,557.96 428.75,550.64 441.65,545.72 454.55,548.03 467.44,545.52 480.34,544.11 493.24,546.42 506.14,553.75" stroke="#c42e3e" stroke-width="1.6" stroke-linejoin="round" fill="none"/></g><path d="M372.2 498.7H510.8V634.56H372.2Z" fill="none" stroke="#3c3c3c" stroke-width="1.6"/><path d="M369.45 506.56H373.05M369.45 526.64H373.05M369.45 546.72H373.05M369.45 566.8H373.05M369.45 586.88H373.05M369.45 606.96H373.05M369.45 627.04H373.05M390.06 634.56V642.6M415.86 634.56V642.6M441.65 634.56V642.6M467.44 634.56V642.6M493.24 634.56V642.6" fill="none" stroke="#3c3c3c" stroke-width="1.1"/><text x="368.3" y="511.46" text-anchor="end" class="t">6</text><text x="368.3" y="531.54" text-anchor="end" class="t">4</text><text x="368.3" y="551.62" text-anchor="end" class="t">2</text><text x="368.3" y="571.7" text-anchor="end" class="t">0</text><text x="368.3" y="591.78" text-anchor="end" class="t">-2</text><text x="368.3" y="611.86" text-anchor="end" class="t">-4</text><text x="368.3" y="631.94" text-anchor="end" class="t">-6</text><text x="390.06" y="652.1" text-anchor="middle" class="t">2</text><text x="415.86" y="652.1" text-anchor="middle" class="t">4</text><text x="441.65" y="652.1" text-anchor="middle" class="t">6</text><text x="467.44" y="652.1" text-anchor="middle" class="t">8</text><text x="493.24" y="652.1" text-anchor="middle" class="t"><tspan class="z">1</tspan>0</text><path transform="translate(485.84,652) scale(0.006494,-0.006494)" d="M515 0V1237L197 1010V1180L530 1409H696V0Z" class="o"/><text x="384.43" y="515.2" textLength="55.15" lengthAdjust="spacingAndGlyphs" class="h">22 genes</text><clipPath id="c15"><rect x="540.2" y="498.7" width="139.2" height="135.86"/></clipPath><g clip-path="url(#c15)"><path d="M540.2 556.7H679.4M540.2 576H679.4M545.29 572.92V562.28M532.39 572.92H558.19M532.39 562.28H558.19M558.19 572.92V562.28M545.29 572.92H571.09M545.29 562.28H571.09M571.09 578.55V559.47M558.19 578.55H583.99M558.19 559.47H583.99M583.99 579.85V555.86M571.09 579.85H596.88M571.09 555.86H596.88M596.88 575.74V554.45M583.99 575.74H609.78M583.99 554.45H609.78M609.78 571.12V526.94M596.88 571.12H622.68M596.88 526.94H622.68M622.68 554.45V513.59M609.78 554.45H635.58M609.78 513.59H635.58M635.58 539.99V511.38M622.68 539.99H648.47M622.68 511.38H648.47M648.47 547.12V512.08M635.57 547.12H661.37M635.57 512.08H661.37M661.37 540.29V522.62M648.47 540.29H674.27M648.47 522.62H674.27M674.27 564.29V527.64M661.37 564.29H687.17M661.37 527.64H687.17" stroke="#b2b2b2" stroke-width="1.15" fill="none"/><polyline points="545.29,568.41 558.19,568.41 571.09,568.41 583.99,566.9 596.88,564.39 609.78,549.73 622.68,533.87 635.58,525.23 648.47,528.95 661.37,531.06 674.27,545.92" stroke="#c42e3e" stroke-width="1.6" stroke-linejoin="round" fill="none"/></g><path d="M540.2 498.7H679.4V634.56H540.2Z" fill="none" stroke="#3c3c3c" stroke-width="1.6"/><path d="M535.4 506.56H540.2M535.4 526.64H540.2M535.4 546.72H540.2M535.4 566.8H540.2M535.4 586.88H540.2M535.4 606.96H540.2M535.4 627.04H540.2M558.19 634.56V642.6M583.99 634.56V642.6M609.78 634.56V642.6M635.58 634.56V642.6M661.37 634.56V642.6" fill="none" stroke="#3c3c3c" stroke-width="1.1"/><text x="534.25" y="511.46" text-anchor="end" class="t">6</text><text x="534.25" y="531.54" text-anchor="end" class="t">4</text><text x="534.25" y="551.62" text-anchor="end" class="t">2</text><text x="534.25" y="571.7" text-anchor="end" class="t">0</text><text x="534.25" y="591.78" text-anchor="end" class="t">-2</text><text x="534.25" y="611.86" text-anchor="end" class="t">-4</text><text x="534.25" y="631.94" text-anchor="end" class="t">-6</text><text x="558.19" y="652.1" text-anchor="middle" class="t">2</text><text x="583.99" y="652.1" text-anchor="middle" class="t">4</text><text x="609.78" y="652.1" text-anchor="middle" class="t">6</text><text x="635.58" y="652.1" text-anchor="middle" class="t">8</text><text x="661.37" y="652.1" text-anchor="middle" class="t"><tspan class="z">1</tspan>0</text><path transform="translate(653.97,652) scale(0.006494,-0.006494)" d="M515 0V1237L197 1010V1180L530 1409H696V0Z" class="o"/><text x="553.73" y="515.2" textLength="55.25" lengthAdjust="spacingAndGlyphs" class="h">20 genes</text><text x="87.13" y="668.0" textLength="33.65" lengthAdjust="spacingAndGlyphs" font-size="17.8">time</text><text transform="translate(17.5,578.8) rotate(-90)" font-size="17.8">s(t<tspan font-size="12.4" dy="4.1">k</tspan><tspan dy="-4.1">)</tspan></text></svg>
</body></html>
